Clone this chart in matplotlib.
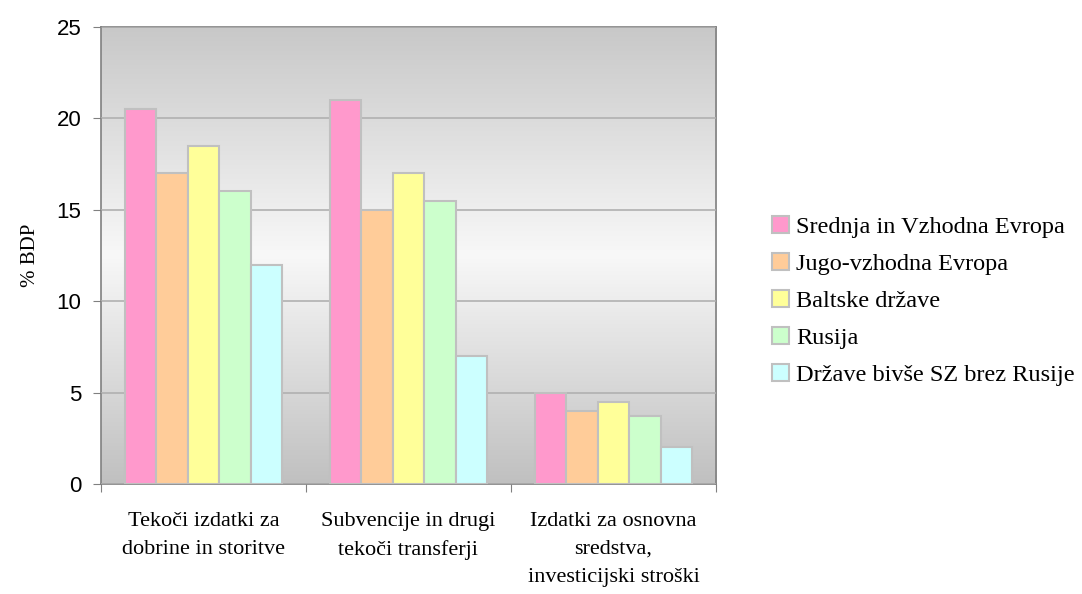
import numpy as np
import matplotlib
matplotlib.use("Agg")
import matplotlib.pyplot as plt
from matplotlib.colors import LinearSegmentedColormap

# izdatki po kategorijah, % BDP
kategorije = ["Tekoči izdatki za\ndobrine in storitve",
              "Subvencije in drugi\ntekoči transferji",
              "Izdatki za osnovna\nsredstva,\ninvesticijski stroški"]
regije = ["Srednja in Vzhodna Evropa", "Jugo-vzhodna Evropa", "Baltske države",
          "Rusija", "Države bivše SZ brez Rusije"]
srednja_vzhodna = [20.5, 21.0, 5.0]
jugo_vzhodna = [17.0, 15.0, 4.0]
baltske = [18.5, 17.0, 4.5]
rusija = [16.0, 15.5, 3.7]
bivse_sz = [12.0, 7.0, 2.0]
barve = ["#ff99cc", "#ffcc99", "#ffff99", "#ccffcc", "#ccffff"]

serif = ["Liberation Serif", "DejaVu Serif"]
sans = ["Liberation Sans", "DejaVu Sans"]

fig = plt.figure(figsize=(10.82, 5.94), dpi=100)
ax = fig.add_axes([0.0933, 0.1852, 0.5684, 0.7694])

# sivi gradient v ozadju
cmap = LinearSegmentedColormap.from_list("ozadje", ["#c0c0c0", "#f8f8f8", "#c8c8c8"])
grad = np.linspace(0, 1, 256).reshape(-1, 1)
ax.imshow(grad, cmap=cmap, aspect="auto", extent=[0, 1, 0, 1],
          transform=ax.transAxes, zorder=0, origin="lower")

serije = [srednja_vzhodna, jugo_vzhodna, baltske, rusija, bivse_sz]
x = np.arange(len(kategorije))
w = 0.154
for i, (vals, name, c) in enumerate(zip(serije, regije, barve)):
    ax.bar(x + (i - 2) * w, vals, w, color=c, edgecolor="#c0c0c0",
           linewidth=1.5, label=name, zorder=3)

ax.set_xlim(-0.5, 2.5)
ax.set_ylim(0, 25)
ax.set_yticks(range(0, 26, 5))
ax.yaxis.grid(True, color="#b0b0b0", linewidth=1.2, zorder=1)
ax.set_axisbelow(False)
for t in ax.get_yticklabels():
    t.set_family(sans)
ax.tick_params(axis="y", labelsize=16, length=6, color="#808080", pad=8)

ax.set_xticks([-0.5, 0.5, 1.5, 2.5], minor=False)
ax.set_xticklabels([])
ax.set_xticks(x, minor=True)
ax.set_xticklabels(kategorije, minor=True, family=serif, fontsize=16, linespacing=1.65)
ax.tick_params(axis="x", which="major", length=6, color="#808080")
ax.tick_params(axis="x", which="minor", length=0, pad=20)

for s in ax.spines.values():
    s.set_color("#808080")
    s.set_linewidth(1.2)

ax.set_ylabel("% BDP", family=serif, fontsize=15, labelpad=12)

ax.legend(loc="center left", bbox_to_anchor=(1.055, 0.40), frameon=False,
          prop={"family": serif, "size": 17.5}, handlelength=0.7, handleheight=0.7,
          handletextpad=0.3, labelspacing=0.62)

fig.savefig("out.png", dpi=100)
